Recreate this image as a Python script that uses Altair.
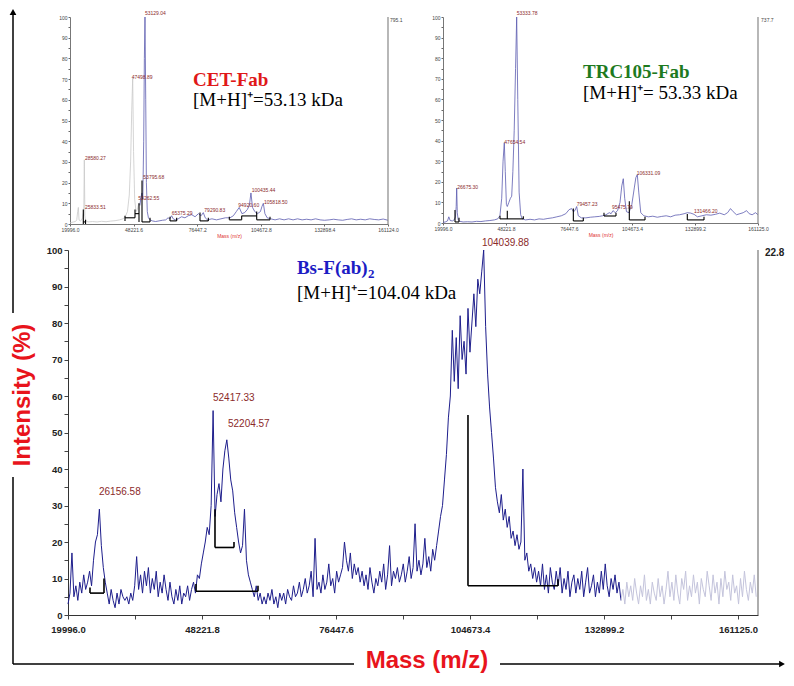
import altair as alt
import pandas as pd

# ---------------- geometry of the whole drawing (plot-area pixels) ----------------
W, H = 770, 666

# ---------------- main spectrum: Bs-F(ab)2 ----------------
MAIN_DOMAIN = [19996.0, 165340.0]
MAIN_START = 20000
MAIN_STEP = 413
MAIN_DARK = [
    3, 6, 17, 5, 8, 4, 9, 6, 11, 7,
    9, 12, 8, 15, 20, 22, 29, 19, 13, 9,
    6, 3, 7, 4, 2, 6, 3, 7, 5, 4,
    5, 3, 6, 4, 8, 16, 7, 11, 6, 12,
    8, 13, 6, 10, 7, 12, 5, 9, 6, 11,
    7, 4, 9, 5, 3, 7, 4, 8, 3, 6,
    5, 8, 4, 7, 9, 6, 11, 10, 14, 17,
    20, 24, 22, 30, 56, 27, 33, 36, 31, 40,
    45, 48, 43, 37, 34, 28, 24, 20, 17, 19,
    29, 15, 11, 9, 7, 5, 8, 4, 6, 3,
    5, 3, 6, 4, 7, 3, 5, 2, 6, 4,
    6, 3, 7, 5, 4, 8, 5, 6, 9, 5,
    7, 10, 6, 8, 12, 5, 21, 7, 9, 6,
    11, 7, 9, 14, 8, 10, 6, 12, 9, 11,
    13, 20, 15, 12, 17, 10, 14, 11, 13, 9,
    12, 8, 11, 7, 13, 9, 6, 10, 8, 12,
    9, 14, 7, 11, 19, 8, 12, 10, 13, 9,
    11, 14, 9, 12, 16, 10, 13, 25, 12, 15,
    11, 14, 21, 13, 16, 12, 18, 15, 19, 23,
    27, 30, 37, 44, 54, 60, 78, 64, 76, 62,
    82, 70, 75, 66, 84, 72, 80, 88, 79, 92,
    88, 94, 100, 79, 66, 57, 50, 43, 35, 31,
    28, 33, 26, 29, 24, 27, 21, 23, 19, 22,
    18, 20, 40, 15, 17, 12, 14, 10, 13, 9,
    12, 8, 14, 7, 11, 6, 13, 9, 7, 12,
    8, 13, 6, 10, 7, 12, 5, 9, 11, 6,
    10, 7, 12, 5, 9, 13, 6, 8, 11, 5,
    9, 6, 12, 7, 14, 8, 5, 10, 7, 11, 6, 9, 4,
]
MAIN_LIGHT = [
    4, 7, 3, 9, 5, 8, 4, 10, 6, 3, 8, 5, 11, 4, 7, 3, 9, 6, 4, 10,
    5, 8, 3, 7, 12, 5, 9, 4, 11, 6, 3, 10, 7, 12, 4, 8, 5, 11, 6, 9,
    3, 10, 7, 5, 12, 8, 4, 11, 6, 9, 3, 10, 5, 12, 7, 9, 4, 11, 6, 8,
    3, 10, 5, 12, 7, 4, 9, 6, 11, 5,
]
# integration brackets: (mass, mass2, intensity, intensity2)
MAIN_BRACKETS = [
    (24630, 24630, 6.0, 7.5), (24630, 27579, 6.0, 6.0), (27579, 27579, 6.0, 10.0),
    (46956, 46956, 6.5, 8.5), (46956, 60016, 6.5, 6.5), (60016, 60016, 6.5, 8.0),
    (50958, 50958, 18.5, 29.0), (50958, 54961, 18.5, 18.5), (54961, 54961, 18.5, 20.0),
    (104249, 104249, 8.0, 54.8), (104249, 123208, 8.0, 8.0), (123208, 123208, 8.0, 9.8),
]
MAIN_PEAK_LABELS = [
    (107179, 101.9, "104039.88"),
    (50530, 59.5, "52417.33"),
    (53690, 52.3, "52204.57"),
    (26524, 33.7, "26156.58"),
]
MAIN_XTICKS = [19996.0, 34108.9, 48221.8, 62334.7, 76447.6, 90560.5,
               104673.4, 118786.3, 132899.2, 147012.1, 161125.0]
MAIN_XLABELS = ["19996.0", "48221.8", "76447.6", "104673.4", "132899.2", "161125.0"]
YTICKS = [0, 5, 10, 15, 20, 25, 30, 35, 40, 45, 50, 55, 60, 65, 70, 75, 80, 85, 90, 95, 100]

# ---------------- inset 1: CET-Fab ----------------
CET_DOMAIN = [19996.0, 161124.0]
CET_GRAY = [
    (19996, 0.5), (20800, 0.8), (21600, 1.0), (22400, 1.2), (23000, 2.0), (23400, 6.0),
    (23700, 8.0), (24000, 2.0), (24600, 1.5), (25200, 2.0), (25600, 3.0), (25900, 5.0),
    (26100, 4.0), (26350, 31.0), (26600, 4.0), (27000, 1.5), (28000, 1.0), (30000, 1.2),
    (32000, 1.0), (34000, 1.3), (36000, 1.1), (38000, 1.4), (40000, 1.6), (42000, 2.0),
    (43500, 2.5), (44500, 3.5), (45500, 6.0), (46300, 14.0), (46900, 30.0), (47400, 55.0),
    (47820, 70.5), (48200, 35.0), (48700, 12.0), (49300, 6.0), (49900, 7.0), (50300, 9.0),
    (50620, 10.0), (51000, 9.0),
]
CET_BLUE = [
    (51000, 9), (51500, 13), (51950, 15), (52300, 12), (52700, 40), (53000, 80),
    (53280, 100), (53600, 60), (53900, 20), (54300, 6), (54800, 3), (55500, 2),
    (56500, 1.5), (58000, 1.2), (59500, 1.5), (61000, 1.8), (62500, 2.0), (63500, 3.0),
    (64300, 2.5), (65100, 4.0), (65800, 2.5), (66800, 2.0), (68000, 2.5), (69500, 3.5),
    (71000, 3.0), (72500, 4.0), (74000, 4.5), (75500, 3.5), (77000, 5.0), (78200, 4.0),
    (79150, 5.5), (80000, 3.0), (81000, 2.0), (83000, 2.5), (85000, 2.0), (87000, 2.5),
    (89000, 3.0), (91000, 3.0), (92500, 4.0), (93800, 6.0), (95100, 8.0), (96300, 5.0),
    (97500, 5.5), (98700, 7.0), (99600, 9.0), (100300, 15.0), (101000, 8.0), (102000, 6.0),
    (103200, 5.0), (104500, 6.0), (105200, 8.5), (105800, 10.0), (106500, 5.0), (107500, 3.0),
    (109000, 2.5), (111000, 2.0), (113000, 2.5), (115000, 2.0), (117000, 2.5), (119000, 2.0),
    (121000, 2.5), (123000, 2.0), (125000, 2.3), (127000, 2.0), (129000, 2.5), (131000, 2.0),
    (133000, 1.8), (135000, 2.0), (137000, 2.3), (139000, 2.0), (141000, 1.8), (143000, 2.2),
    (145000, 2.5), (147000, 2.0), (149000, 2.3), (151000, 2.0), (153000, 2.5), (155000, 2.2),
    (157000, 2.0), (159000, 2.4), (161124, 1.8),
]
CET_BRACKETS = [
    (25900, 25900, 0.0, 7.0), (25900, 26900, 1.0, 1.0), (26900, 26900, 0.0, 2.0),
    (44405, 44405, 1.5, 4.0), (44405, 48843, 3.0, 3.0), (48843, 48843, 3.0, 7.0),
    (48843, 50618, 5.0, 5.0), (50618, 50618, 1.0, 10.0), (51950, 51950, 1.0, 21.0),
    (51950, 55500, 1.0, 1.0), (55500, 55500, 1.0, 3.0),
    (64376, 64376, 1.5, 3.5), (64376, 67330, 1.5, 1.5), (67330, 67330, 1.5, 3.0),
    (77690, 77690, 1.5, 5.5), (77690, 81380, 1.5, 1.5), (81380, 81380, 1.5, 3.0),
    (90700, 90700, 2.0, 3.5), (90700, 96190, 2.0, 2.0), (96190, 96190, 2.0, 4.0),
    (96190, 102850, 3.9, 3.9), (102850, 102850, 2.0, 6.0), (102850, 108756, 2.0, 2.0),
    (108756, 108756, 2.0, 3.5),
]
CET_PEAK_LABELS = [
    (53281, 102.0, "53129.04"), (47370, 71.0, "47498.89"), (26653, 32.0, "28580.27"),
    (26653, 8.3, "25833.51"), (52540, 22.7, "53795.68"), (50320, 12.5, "53262.55"),
    (65120, 5.3, "65375.29"), (79610, 7.0, "79290.83"), (94690, 9.0, "94920.60"),
    (100630, 16.4, "100435.44"), (106100, 10.6, "105818.50"),
]
CET_XTICKS = [19996.0, 48221.6, 76447.2, 104672.8, 132898.4, 161124.0]

# ---------------- inset 2: TRC105-Fab ----------------
TRC_DOMAIN = [19996.0, 161125.0]
TRC_BLUE = [
    (19996, 0.3), (21000, 0.5), (22000, 1.0), (22600, 3.0), (23200, 1.2), (24200, 1.0),
    (25000, 1.5), (25600, 3.0), (25900, 8.0), (26130, 17.0), (26400, 5.0), (26800, 1.5),
    (27600, 0.8), (29000, 0.5), (31000, 0.6), (33000, 0.5), (35000, 0.8), (37000, 0.7),
    (39000, 1.0), (41000, 1.2), (43000, 1.5), (44500, 2.0), (45500, 3.5), (46300, 12.0),
    (46900, 30.0), (47460, 39.0), (47900, 25.0), (48400, 9.0), (48800, 8.0), (49500, 10.0),
    (50200, 12.0), (50770, 13.0), (51300, 25.0), (51900, 45.0), (52500, 75.0), (53010, 100.0),
    (53500, 60.0), (54100, 15.0), (54800, 4.0), (55500, 2.0), (57000, 1.5), (59000, 1.8),
    (61000, 1.5), (63000, 2.0), (65000, 1.8), (67000, 2.2), (69000, 2.5), (71000, 3.0),
    (73000, 3.5), (75000, 4.5), (76500, 6.5), (77650, 7.0), (78400, 5.5), (79100, 6.0),
    (79890, 8.0), (80600, 3.5), (82000, 2.5), (84000, 2.5), (86000, 2.8), (88000, 3.0),
    (90000, 3.2), (91500, 3.5), (93000, 4.0), (94500, 5.0), (95300, 4.5), (96160, 6.0),
    (97200, 5.0), (98200, 6.0), (99300, 10.0), (100100, 18.0), (100770, 21.5), (101400, 12.0),
    (102200, 5.5), (103300, 5.0), (104600, 9.0), (105700, 17.0), (106400, 22.0), (107050, 23.5),
    (107700, 15.0), (108600, 5.0), (110000, 3.5), (112000, 3.0), (114000, 3.3), (116000, 2.8),
    (118000, 3.2), (120000, 3.5), (122000, 3.0), (124000, 3.8), (126000, 4.0), (128000, 4.5),
    (129500, 5.0), (131000, 4.8), (132500, 4.2), (134000, 3.0), (136000, 3.5), (138000, 4.0),
    (140000, 3.8), (142000, 4.2), (144000, 4.8), (146000, 4.0), (147500, 5.0), (148800, 7.0),
    (150000, 5.5), (151500, 4.0), (153000, 4.5), (154500, 5.0), (156000, 6.0), (157200, 4.5),
    (158500, 4.0), (160000, 5.0), (161125, 4.0),
]
TRC_BRACKETS = [
    (25372, 25372, 0.5, 6.3), (25372, 27164, 0.5, 0.5), (27164, 27164, 0.5, 2.5),
    (45532, 45532, 2.0, 3.5), (45532, 55978, 2.0, 2.0), (48802, 48802, 2.0, 6.0),
    (55978, 55978, 2.0, 3.3),
    (78390, 78390, 1.0, 7.0), (78390, 82850, 1.0, 1.0), (82850, 82850, 1.0, 2.5),
    (92124, 92124, 3.4, 5.0), (92124, 97500, 3.4, 3.4), (97500, 97500, 3.4, 5.0),
    (103470, 103470, 1.5, 10.5), (103470, 110500, 1.5, 1.5), (110500, 110500, 1.5, 3.0),
    (129450, 129450, 1.5, 4.4), (129450, 136930, 1.5, 1.5), (136930, 136930, 1.5, 3.0),
]
TRC_PEAK_LABELS = [
    (53010, 102.0, "53333.78"), (47470, 39.5, "47654.54"), (26400, 17.4, "26675.30"),
    (79880, 9.2, "79457.23"), (95700, 7.6, "95475.79"), (106770, 24.4, "106331.09"),
    (132440, 5.8, "131466.20"),
]
TRC_XTICKS = [19996.0, 48221.8, 76447.6, 104673.4, 132899.2, 161125.0]

SANS = "Liberation Sans"
SERIF = "Liberation Serif"
PEAK_RED = "#8b2a2a"


def label_expr(labels):
    arr = ",".join("'" + s + "'" for s in labels)
    return ("indexof([" + arr + "], format(datum.value, '.1f')) >= 0 ? "
            "format(datum.value, '.1f') : ''")


def pairs_df(pairs):
    return pd.DataFrame(pairs, columns=["mass", "intensity"])


def brackets_df(rows):
    return pd.DataFrame(rows, columns=["mass", "mass2", "intensity", "intensity2"])


def labels_df(rows):
    return pd.DataFrame(rows, columns=["mass", "intensity", "label"])


def panel(xs, ys, xaxis, yaxis, lines, brackets, br_width, peak_rows, peak_size,
          border_mass, border_color, extra):
    X = alt.X("mass:Q", scale=xs, axis=xaxis)
    Y = alt.Y("intensity:Q", scale=ys, axis=yaxis)
    layers = []
    for df, color, sw in lines:
        layers.append(alt.Chart(df).mark_line(color=color, strokeWidth=sw, clip=False)
                      .encode(x=X, y=Y, order="mass:Q"))
    layers.append(alt.Chart(brackets_df(brackets)).mark_rule(color="black", strokeWidth=br_width)
                  .encode(x=X, x2="mass2:Q", y=Y, y2="intensity2:Q"))
    layers.append(alt.Chart(pd.DataFrame({"mass": [border_mass], "intensity": [0.0],
                                          "intensity2": [100.0]}))
                  .mark_rule(color=border_color, strokeWidth=1.2)
                  .encode(x=X, y=Y, y2="intensity2:Q"))
    layers.append(alt.Chart(labels_df(peak_rows))
                  .mark_text(align="left", baseline="middle", font=SANS,
                             fontSize=peak_size, color=PEAK_RED)
                  .encode(x=X, y=Y, text="label:N"))
    for rows, style in extra:
        layers.append(alt.Chart(labels_df(rows)).mark_text(**style)
                      .encode(x=X, y=Y, text="label:N"))
    return alt.layer(*layers)


# ---------------- main panel ----------------
dark_df = pd.DataFrame({"mass": [MAIN_START + i * MAIN_STEP for i in range(len(MAIN_DARK))],
                        "intensity": MAIN_DARK})
n0 = len(MAIN_DARK) - 1
light_df = pd.DataFrame({"mass": [MAIN_START + (n0 + i) * MAIN_STEP for i in range(len(MAIN_LIGHT))],
                         "intensity": MAIN_LIGHT})

MAIN_BOTTOM = 607
main_x = alt.Scale(domain=MAIN_DOMAIN, range=[52, 742], nice=False, zero=False)
main_y = alt.Scale(domain=[0, 100], range=[MAIN_BOTTOM, 242], nice=False, zero=False)
main_xaxis = alt.Axis(orient="bottom", offset=MAIN_BOTTOM - H, values=MAIN_XTICKS,
                      labelExpr=label_expr(MAIN_XLABELS), title=None, grid=False,
                      tickSize=4, tickColor="#444", domainColor="#333", labelFont=SANS,
                      labelFontWeight="bold", labelFontSize=9.5, labelColor="#222",
                      labelPadding=5, labelFlush=False, labelOverlap=False)
main_yaxis = alt.Axis(orient="left", offset=-52, values=YTICKS,
                      labelExpr="datum.value % 10 == 0 ? format(datum.value, 'd') : ''",
                      title=None, grid=False, tickSize=4, tickColor="#444", domainColor="#333",
                      labelFont=SANS, labelFontWeight="bold", labelFontSize=9.5,
                      labelColor="#222", labelPadding=2, labelOverlap=False)

title_bold = dict(align="left", baseline="middle", font=SERIF, fontWeight="bold", fontSize=19)
title_norm = dict(align="left", baseline="middle", font=SERIF, fontSize=19, color="black")

main_panel = panel(
    main_x, main_y, main_xaxis, main_yaxis,
    [(dark_df, "#1e1e8c", 1.0), (light_df, "#c4c4dc", 1.0)],
    MAIN_BRACKETS, 1.6, MAIN_PEAK_LABELS, 10, MAIN_DOMAIN[1], "#777777",
    [
        ([(68222, 95.1, "Bs-F(ab)")], dict(title_bold, color="#1c1cc4")),
        ([(68222, 95.1, "2")], dict(title_bold, color="#1c1cc4", fontSize=13, dx=71, dy=6)),
        ([(68222, 88.2, "[M+H]\u207a=104.04 kDa")], title_norm),
        ([(166790, 99.2, "22.8")], dict(align="left", baseline="middle", font=SANS,
                                         fontWeight="bold", fontSize=10, color="#222")),
    ],
)


def inset_axes(x0, bottom, ticks, labels):
    xa = alt.Axis(orient="bottom", offset=bottom - H, values=ticks, labelExpr=label_expr(labels),
                  title="Mass (m/z)", titleColor="#e03030", titleFontSize=5, titleFont=SANS,
                  titleFontWeight="normal", titlePadding=1, grid=False, tickSize=2,
                  tickColor="#666", domainColor="#777", labelFont=SANS, labelFontSize=5,
                  labelColor="#444", labelPadding=1, labelFlush=False, labelOverlap=False)
    ya = alt.Axis(orient="left", offset=-x0, values=YTICKS,
                  labelExpr="datum.value % 10 == 0 ? format(datum.value, 'd') : ''",
                  title=None, grid=False, tickSize=2, tickColor="#666", domainColor="#777",
                  labelFont=SANS, labelFontSize=5, labelColor="#444", labelPadding=1,
                  labelOverlap=False)
    return xa, ya


cet_xa, cet_ya = inset_axes(54, 216, CET_XTICKS,
                            ["19996.0", "48221.6", "76447.2", "104672.8", "132898.4", "161124.0"])
cet_panel = panel(
    alt.Scale(domain=CET_DOMAIN, range=[54, 372], nice=False, zero=False),
    alt.Scale(domain=[0, 100], range=[216, 9], nice=False, zero=False),
    cet_xa, cet_ya,
    [(pairs_df(CET_GRAY), "#c9c9c9", 0.8), (pairs_df(CET_BLUE), "#5c5cb0", 0.8)],
    CET_BRACKETS, 1.1, CET_PEAK_LABELS, 5, CET_DOMAIN[1], "#888888",
    [
        ([(74580, 69.6, "CET-Fab")], dict(title_bold, color="#e01818")),
        ([(74580, 59.9, "[M+H]\u207a=53.13 kDa")], title_norm),
        ([(162000, 98.5, "795.1")], dict(align="left", baseline="middle", font=SANS,
                                          fontSize=5, color="#444")),
    ],
)

trc_xa, trc_ya = inset_axes(427, 215, TRC_XTICKS,
                            ["19996.0", "48221.8", "76447.6", "104673.4", "132899.2", "161125.0"])
trc_panel = panel(
    alt.Scale(domain=TRC_DOMAIN, range=[427, 742], nice=False, zero=False),
    alt.Scale(domain=[0, 100], range=[215, 9], nice=False, zero=False),
    trc_xa, trc_ya,
    [(pairs_df(TRC_BLUE), "#5c5cb0", 0.8)],
    TRC_BRACKETS, 1.1, TRC_PEAK_LABELS, 5, TRC_DOMAIN[1], "#888888",
    [
        ([(82716, 73.3, "TRC105-Fab")], dict(title_bold, color="#1e7a1e")),
        ([(82716, 63.1, "[M+H]\u207a= 53.33 kDa")], title_norm),
        ([(162500, 98.5, "737.7")], dict(align="left", baseline="middle", font=SANS,
                                          fontSize=5, color="#444")),
    ],
)

# ---------------- overall axis arrows and titles ----------------
one = pd.DataFrame({"k": [0]})
AX_X, AX_Y = -3, 656
TXT_MID = 387
RED = "#e8141c"
deco = [
    alt.Chart(one).mark_rule(color="black", strokeWidth=1.5)
    .encode(x=alt.value(AX_X), y=alt.value(AX_Y), y2=alt.value(TXT_MID + 82)),
    alt.Chart(one).mark_rule(color="black", strokeWidth=1.5)
    .encode(x=alt.value(AX_X), y=alt.value(TXT_MID - 82), y2=alt.value(6)),
    alt.Chart(one).mark_point(shape="triangle-up", filled=True, size=45, color="black", opacity=1)
    .encode(x=alt.value(AX_X), y=alt.value(4)),
    alt.Chart(one).mark_rule(color="black", strokeWidth=1.5)
    .encode(y=alt.value(AX_Y), x=alt.value(AX_X), x2=alt.value(338)),
    alt.Chart(one).mark_rule(color="black", strokeWidth=1.5)
    .encode(y=alt.value(AX_Y), x=alt.value(484), x2=alt.value(764)),
    alt.Chart(one).mark_point(shape="triangle-right", filled=True, size=45, color="black", opacity=1)
    .encode(x=alt.value(766), y=alt.value(AX_Y)),
    alt.Chart(one).mark_text(text="Intensity (%)", angle=270, align="center", baseline="middle",
                             font=SANS, fontWeight="bold", fontSize=24, color=RED)
    .encode(x=alt.value(7), y=alt.value(TXT_MID)),
    alt.Chart(one).mark_text(text="Mass (m/z)", align="center", baseline="middle",
                             font=SANS, fontWeight="bold", fontSize=24, color=RED)
    .encode(x=alt.value(411), y=alt.value(AX_Y - 3)),
]

chart = (
    alt.layer(main_panel, cet_panel, trc_panel, *deco)
    .resolve_scale(x="independent", y="independent")
    .properties(width=W, height=H,
                autosize=alt.AutoSizeParams(type="none"),
                padding={"left": 8, "top": 0, "right": 0, "bottom": 0})
    .configure_view(stroke=None)
)

chart.save("out.html", embed_options={"renderer": "svg", "actions": False})
